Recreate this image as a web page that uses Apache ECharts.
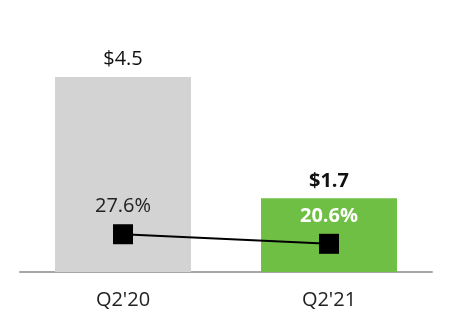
<!DOCTYPE html>
<html><head><meta charset="utf-8">
<script src="https://cdn.jsdelivr.net/npm/echarts@6/dist/echarts.min.js"></script>
<style>html,body{margin:0;padding:0;background:#fff;}#c{width:452px;height:332px;}</style>
</head><body><div id="c"></div>
<script>
const categories = ["Q2'20", "Q2'21"];
const revenue = [4.5, 1.7];
const revenueLabels = ["$4.5", "$1.7"];
const margin = [27.6, 20.6];
const marginLabels = ["27.6%", "20.6%"];
const barColors = ['#d3d3d3', '#6fbf44'];

const font = '"Open Sans", "Noto Sans", sans-serif';
const chart = echarts.init(document.getElementById('c'), null, {renderer: 'canvas'});
chart.setOption({
  animation: false,
  grid: {left: 20, right: 20, top: 12, height: 260},
  xAxis: {
    type: 'category', data: categories,
    axisLine: {lineStyle: {color: '#a6a6a6', width: 2}},
    axisTick: {show: false},
    axisLabel: {fontSize: 20, color: '#222', fontFamily: font, margin: 18}
  },
  yAxis: [
    {type: 'value', min: 0, max: 6, show: false, splitLine: {show: false}},
    {type: 'value', min: 0, max: 190, show: false, splitLine: {show: false}}
  ],
  series: [
    {
      type: 'bar', yAxisIndex: 0, barWidth: '66%',
      data: revenue.map((v, i) => ({
        value: v,
        itemStyle: {color: barColors[i]},
        label: {
          show: true, position: 'top', distance: i === 1 ? 7 : 8,
          formatter: revenueLabels[i], fontSize: 20, fontFamily: font,
          color: '#111', fontWeight: i === 1 ? 'bold' : 'normal'
        }
      }))
    },
    {
      type: 'line', yAxisIndex: 1,
      symbol: 'rect', symbolSize: 20,
      lineStyle: {color: '#000', width: 2},
      itemStyle: {color: '#000'},
      data: margin.map((v, i) => ({
        value: v,
        label: {
          show: true, position: 'top', distance: i === 1 ? 8 : 8,
          formatter: marginLabels[i], fontSize: 20, fontFamily: font,
          color: i === 1 ? '#fff' : '#222', fontWeight: i === 1 ? 'bold' : 'normal'
        }
      }))
    }
  ]
});
</script></body></html>
